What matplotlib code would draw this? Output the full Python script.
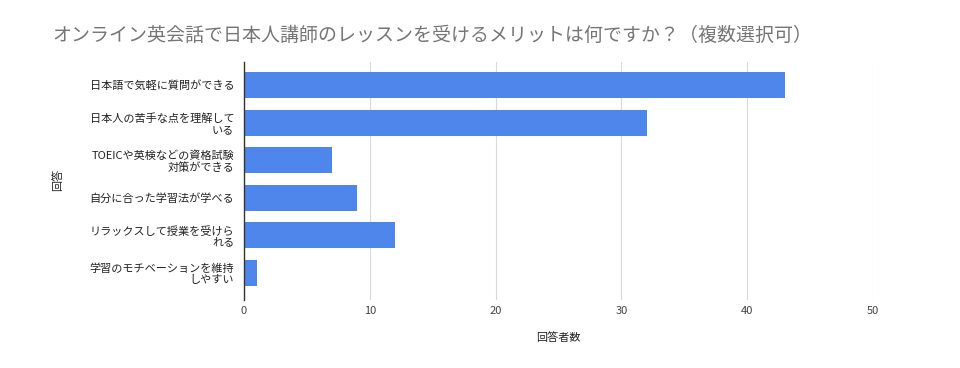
import matplotlib
matplotlib.use("Agg")
import matplotlib.pyplot as plt

plt.rcParams['font.family'] = ['Noto Sans CJK JP', 'DejaVu Sans']

categories = [
    "日本語で気軽に質問ができる",
    "日本人の苦手な点を理解して\nいる",
    "TOEICや英検などの資格試験\n対策ができる",
    "自分に合った学習法が学べる",
    "リラックスして授業を受けら\nれる",
    "学習のモチベーションを維持\nしやすい",
]
values = [43, 32, 7, 9, 12, 1]
xticks = [0, 10, 20, 30, 40, 50]

title = "オンライン英会話で日本人講師のレッスンを受けるメリットは何ですか？（複数選択可）"

fig = plt.figure(figsize=(9.6, 3.68), dpi=100)
ax = fig.add_axes([244/960, 1-300/368, (873-244)/960, (300-62)/368])

pos = list(range(len(categories)))
ax.barh(pos, values, height=0.69, color='#4f86ec', zorder=3)
ax.set_ylim(5.72, -0.61)
ax.set_xlim(0, 50)
ax.set_xticks(xticks)
ax.set_xticklabels([str(t) for t in xticks])
ax.set_yticks(pos)
ax.set_yticklabels(categories, fontsize=8, color='#222222', linespacing=1.1)
ax.tick_params(axis='y', length=0, pad=7)
ax.tick_params(axis='x', length=0, labelsize=8, colors='#444444', pad=4)
ax.grid(axis='x', color='#d9d9d9', linewidth=0.8, zorder=0)
for s in ['top', 'right', 'bottom']:
    ax.spines[s].set_visible(False)
ax.spines['left'].set_color('#333333')
ax.spines['left'].set_linewidth(1.0)
ax.spines['left'].set_zorder(4)

ax.set_xlabel("回答者数", fontsize=8, color='#222222', labelpad=12)
fig.text(58/960, 1-180/368, "回答", rotation=90, fontsize=8, color='#222222',
         ha='center', va='center')

fig.text(52/960, 1-35/368, title, fontsize=13.65, color='#757575', ha='left', va='center')

fig.savefig("out.png", dpi=100)
